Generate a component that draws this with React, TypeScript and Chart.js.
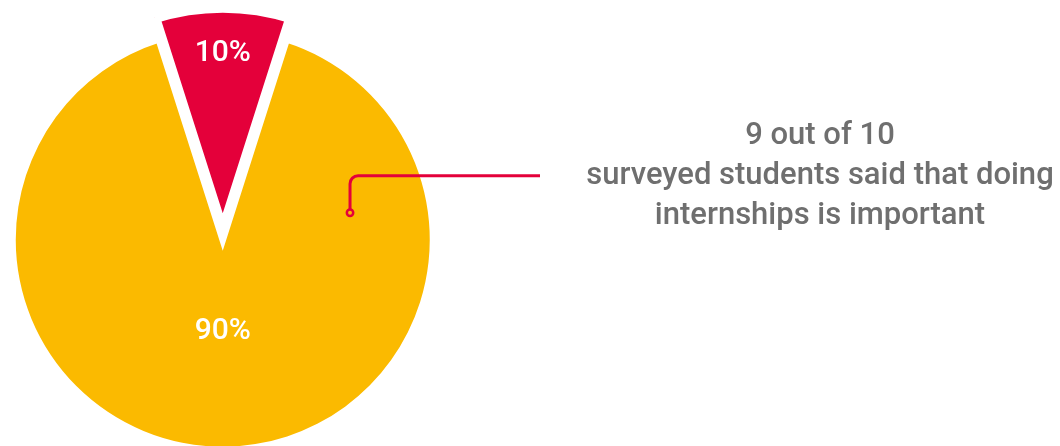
import React, { useEffect, useRef } from "react";
import { Chart, registerables } from "chart.js";

Chart.register(...registerables);

// ---- data ----
const sliceLabels = ["Said internships are important", "Did not"];
const sliceValues = [90, 10];
const sliceColors = ["#FBBA00", "#E4003A"];
const annotationLines = [
  "9 out of 10",
  "surveyed students said that doing",
  "internships is important",
];

// ---- styles ----
const LABEL_FONT = "500 30px Roboto";
const LABEL_RADIUS_FRACTION = [0.41, 0.87];
const LEADER_COLOR = "#E4003A";
const LEADER_ANCHOR_ANGLE_DEG = -16.4;
const LEADER_ANCHOR_RADIUS_FRACTION = 0.61;
const LEADER_RISE = 37;
const LEADER_END_X = 540;
const LEADER_CORNER = 8;

const pieDecorations = {
  id: "pieDecorations",
  afterDatasetsDraw(chart: any) {
    const ctx = chart.ctx as CanvasRenderingContext2D;
    const meta = chart.getDatasetMeta(0);
    const values = chart.data.datasets[0].data as number[];
    ctx.save();
    // percentage labels
    ctx.font = LABEL_FONT;
    ctx.fillStyle = "#ffffff";
    ctx.textAlign = "center";
    ctx.textBaseline = "alphabetic";
    meta.data.forEach((arc: any, i: number) => {
      const { x, y, startAngle, endAngle, outerRadius } = arc.getProps(
        ["x", "y", "startAngle", "endAngle", "outerRadius"],
        true
      );
      const mid = (startAngle + endAngle) / 2;
      const r = outerRadius * LABEL_RADIUS_FRACTION[i];
      ctx.fillText(`${values[i]}%`, x + Math.cos(mid) * r, y + Math.sin(mid) * r);
    });

    // leader line from the big slice to the annotation
    const big = meta.data[0] as any;
    const { x, y, outerRadius } = big.getProps(["x", "y", "outerRadius"], true);
    const a = (LEADER_ANCHOR_ANGLE_DEG * Math.PI) / 180;
    const ax = x + Math.cos(a) * outerRadius * LEADER_ANCHOR_RADIUS_FRACTION;
    const ay = y + Math.sin(a) * outerRadius * LEADER_ANCHOR_RADIUS_FRACTION;
    const ey = ay - LEADER_RISE;
    ctx.strokeStyle = LEADER_COLOR;
    ctx.lineWidth = 3;
    ctx.lineCap = "butt";
    ctx.beginPath();
    ctx.moveTo(ax, ay - 3);
    ctx.lineTo(ax, ey + LEADER_CORNER);
    ctx.arcTo(ax, ey, ax + LEADER_CORNER, ey, LEADER_CORNER);
    ctx.lineTo(LEADER_END_X, ey);
    ctx.stroke();
    ctx.lineWidth = 2.5;
    ctx.beginPath();
    ctx.arc(ax, ay, 3.2, 0, Math.PI * 2);
    ctx.stroke();
    ctx.restore();
  },
};

export default function App() {
  const canvasRef = useRef<HTMLCanvasElement | null>(null);

  useEffect(() => {
    if (!canvasRef.current) return;
    const chart = new Chart(canvasRef.current, {
      type: "pie",
      data: {
        labels: sliceLabels,
        datasets: [
          {
            data: sliceValues,
            backgroundColor: sliceColors,
            borderColor: "#ffffff",
            borderWidth: [0, 11.4],
            borderJoinStyle: "miter",
            offset: [-42, 72.8],
            hoverOffset: 0,
            clip: false,
          } as any,
        ],
      },
      options: {
        animation: false,
        responsive: false,
        events: [],
        rotation: 18,
        radius: 217.5,
        layout: { padding: { left: 0, right: 614.5, top: 54.4, bottom: 0 } },
        plugins: {
          legend: { display: false },
          tooltip: { enabled: false },
        },
      } as any,
      plugins: [pieDecorations],
    });
    return () => chart.destroy();
  }, []);

  return (
    <div
      style={{
        position: "absolute",
        left: 0,
        top: 0,
        width: 1060,
        height: 446,
        overflow: "hidden",
        background: "#ffffff",
      }}
    >
      <canvas
        ref={canvasRef}
        width={1060}
        height={446}
        style={{ position: "absolute", left: 0, top: 0, width: 1060, height: 446 }}
      />
      <div
        style={{
          position: "absolute",
          left: 520,
          top: 113.7,
          width: 600,
          textAlign: "center",
          font: "500 31px Roboto",
          lineHeight: "40px",
          color: "#6F6F6F",
          whiteSpace: "nowrap",
        }}
      >
        {annotationLines.map((line) => (
          <div key={line}>{line}</div>
        ))}
      </div>
    </div>
  );
}
